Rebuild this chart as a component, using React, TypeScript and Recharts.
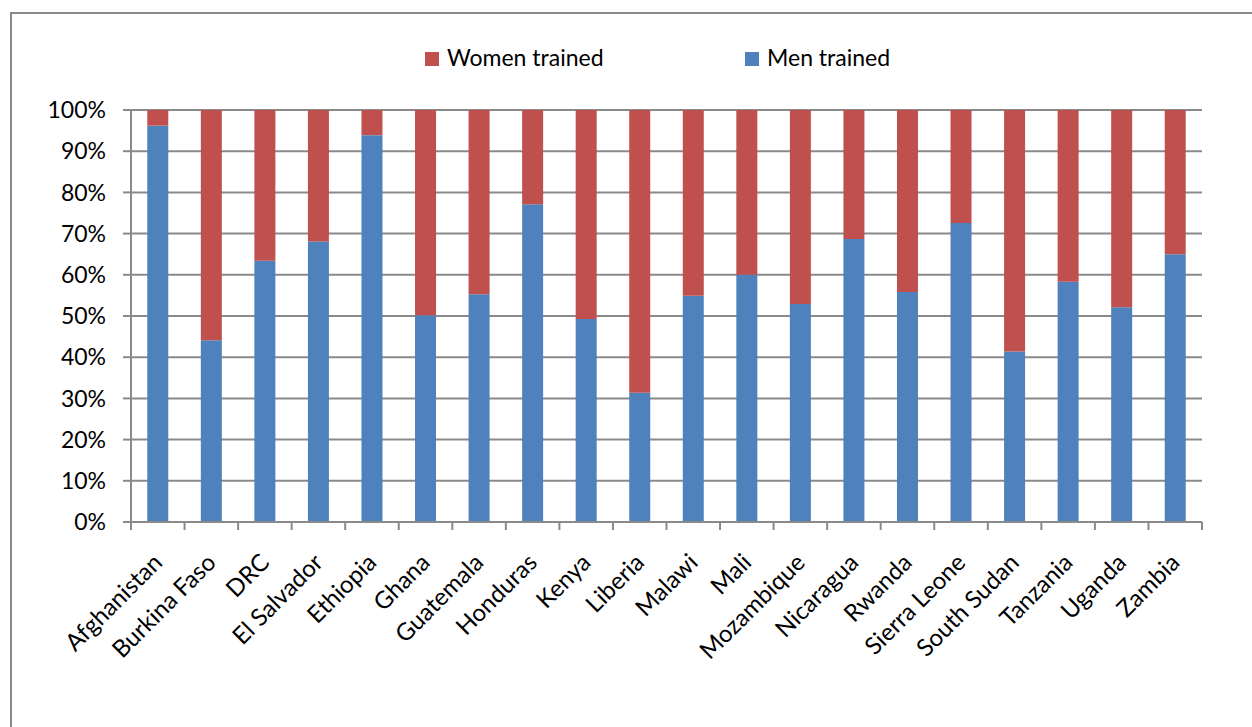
import { BarChart, Bar, XAxis, YAxis, CartesianGrid } from 'recharts';

const countries = [
  'Afghanistan', 'Burkina Faso', 'DRC', 'El Salvador', 'Ethiopia', 'Ghana', 'Guatemala',
  'Honduras', 'Kenya', 'Liberia', 'Malawi', 'Mali', 'Mozambique', 'Nicaragua', 'Rwanda',
  'Sierra Leone', 'South Sudan', 'Tanzania', 'Uganda', 'Zambia',
];

// share of men among people trained (%)
const menTrained = [
  96.2, 44.1, 63.4, 68.1, 93.9, 50.2, 55.3, 77.1, 49.3, 31.4,
  54.9, 60.0, 52.9, 68.7, 55.8, 72.6, 41.4, 58.3, 52.1, 65.0,
];

// share of women among people trained (%)
const womenTrained = [
  3.8, 55.9, 36.6, 31.9, 6.1, 49.8, 44.7, 22.9, 50.7, 68.6,
  45.1, 40.0, 47.1, 31.3, 44.2, 27.4, 58.6, 41.7, 47.9, 35.0,
];

const yTicks = [0, 10, 20, 30, 40, 50, 60, 70, 80, 90, 100];

const data = countries.map((name, i) => ({
  name,
  men: menTrained[i],
  women: womenTrained[i],
}));

const W = 1252;
const H = 727;
const PLOT_LEFT = 131;
const PLOT_RIGHT = 1202;
const PLOT_TOP = 110;
const PLOT_BOTTOM = 522;
const BAND = (PLOT_RIGHT - PLOT_LEFT) / countries.length;
const FONT = 'Lato, "Open Sans", sans-serif';
const GRID = '#8a8a8a';
const BLUE = '#4F81BD';
const RED = '#C0504D';

// category label rotated -45deg, plus the tick marks that sit between categories
const CountryTick = (props: any) => {
  const { x, y, payload, index } = props;
  const left = x - BAND / 2;
  const tx = x + 6;
  const ty = y + 34;
  return (
    <g>
      <line x1={left} y1={y - 8} x2={left} y2={y} stroke={GRID} strokeWidth={2} />
      {index === countries.length - 1 && (
        <line x1={x + BAND / 2} y1={y - 8} x2={x + BAND / 2} y2={y} stroke={GRID} strokeWidth={2} />
      )}
      <text
        x={tx}
        y={ty}
        textAnchor="end"
        transform={`rotate(-45, ${tx}, ${ty})`}
        fontFamily={FONT}
        fontSize={24}
        fill="#000"
      >
        {payload.value}
      </text>
    </g>
  );
};

const LegendBox = () => (
  <div style={{ position: 'absolute', left: 0, top: 45, width: W, height: 30, fontFamily: FONT, fontSize: 23, color: '#000' }}>
    <div style={{ position: 'absolute', left: 425, top: 7, width: 14, height: 14, background: RED }} />
    <span style={{ position: 'absolute', left: 447, top: -2 }}>Women trained</span>
    <div style={{ position: 'absolute', left: 745, top: 7, width: 14, height: 14, background: BLUE }} />
    <span style={{ position: 'absolute', left: 767, top: -2 }}>Men trained</span>
  </div>
);

export default function App() {
  return (
    <div style={{ position: 'fixed', left: 0, top: 0, width: W, height: H, background: '#fff' }}>
      <div style={{ position: 'absolute', left: 10, top: 12, width: W, height: H, borderTop: `2px solid ${GRID}`, borderLeft: `2px solid ${GRID}` }} />
      <LegendBox />
      <BarChart
        width={W}
        height={H}
        data={data}
        margin={{ top: PLOT_TOP, right: W - PLOT_RIGHT, left: 0, bottom: 0 }}
        barCategoryGap="30.4%"
        style={{ position: 'absolute', left: 0, top: 0 }}
      >
        <CartesianGrid vertical={false} stroke={GRID} strokeWidth={2} />
        <XAxis
          dataKey="name"
          interval={0}
          height={H - PLOT_BOTTOM}
          tickLine={false}
          axisLine={{ stroke: GRID, strokeWidth: 2 }}
          tick={<CountryTick />}
        />
        <YAxis
          width={PLOT_LEFT}
          domain={[0, 100]}
          ticks={yTicks}
          tickFormatter={(v: number) => `${v}%`}
          tickSize={8}
          tickMargin={17}
          tickLine={{ stroke: GRID, strokeWidth: 2 }}
          axisLine={{ stroke: GRID, strokeWidth: 2 }}
          tick={{ fill: '#000', fontFamily: FONT, fontSize: 23 }}
        />
        <Bar dataKey="men" name="Men trained" stackId="a" fill={BLUE} isAnimationActive={false} />
        <Bar dataKey="women" name="Women trained" stackId="a" fill={RED} isAnimationActive={false} />
      </BarChart>
    </div>
  );
}
